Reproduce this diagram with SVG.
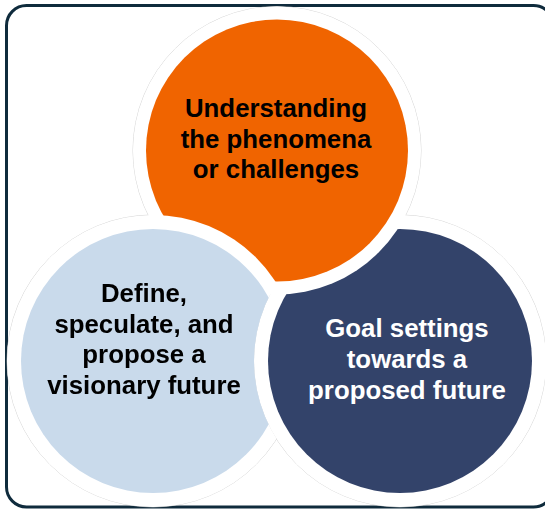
<svg xmlns="http://www.w3.org/2000/svg" width="545" height="509" viewBox="0 0 545 509">
  <style>
    .label { font-family: "Liberation Sans", Arial, sans-serif; font-weight: bold; font-size: 25.8px; text-anchor: middle; }
    .dark { fill: #000000; }
    .light { fill: #ffffff; }
    .halo { fill: #ffffff; }
    .edge { fill: #ffffff; stroke: #c4c4c4; stroke-width: 0.7; }
  </style>
  <defs>
    <!-- hides the light-blue disc wherever the navy disc sits above it -->
    <mask id="under-navy" maskUnits="userSpaceOnUse" x="0" y="0" width="545" height="509">
      <rect x="0" y="0" width="545" height="509" fill="#ffffff"/>
      <circle cx="400" cy="361" r="146" fill="#000000"/>
    </mask>
  </defs>

  <rect id="frame" x="6.5" y="5.5" width="547" height="501.5" rx="20" ry="20" fill="#ffffff" stroke="#0f2b3c" stroke-width="3"/>

  <!-- faint outer outline of the three white halos -->
  <g id="halo-outline">
    <circle class="edge" cx="277" cy="150.5" r="144"/>
    <circle class="edge" cx="153" cy="361" r="146"/>
    <circle class="edge" cx="400" cy="361" r="146"/>
  </g>

  <g id="connectors"></g>

  <g id="node-goal">
    <circle class="halo" cx="400" cy="361" r="146"/>
    <circle cx="400" cy="361" r="132" fill="#33436a"/>
    <text class="label light" x="407" y="337">Goal settings</text>
    <text class="label light" x="407" y="368">towards a</text>
    <text class="label light" x="407" y="399">proposed future</text>
  </g>

  <g id="node-understanding">
    <circle class="halo" cx="277" cy="150.5" r="144"/>
    <circle cx="277" cy="150.5" r="131" fill="#f06400"/>
    <text class="label dark" x="276" y="117">Understanding</text>
    <text class="label dark" x="276" y="148">the phenomena</text>
    <text class="label dark" x="276" y="178">or challenges</text>
  </g>

  <g id="node-define" mask="url(#under-navy)">
    <circle class="halo" cx="153" cy="361" r="146"/>
    <circle cx="153" cy="361" r="132" fill="#c9daeb"/>
    <text class="label dark" x="144" y="302">Define,</text>
    <text class="label dark" x="144" y="333">speculate, and</text>
    <text class="label dark" x="144" y="363">propose a</text>
    <text class="label dark" x="144" y="394">visionary future</text>
  </g>
</svg>
